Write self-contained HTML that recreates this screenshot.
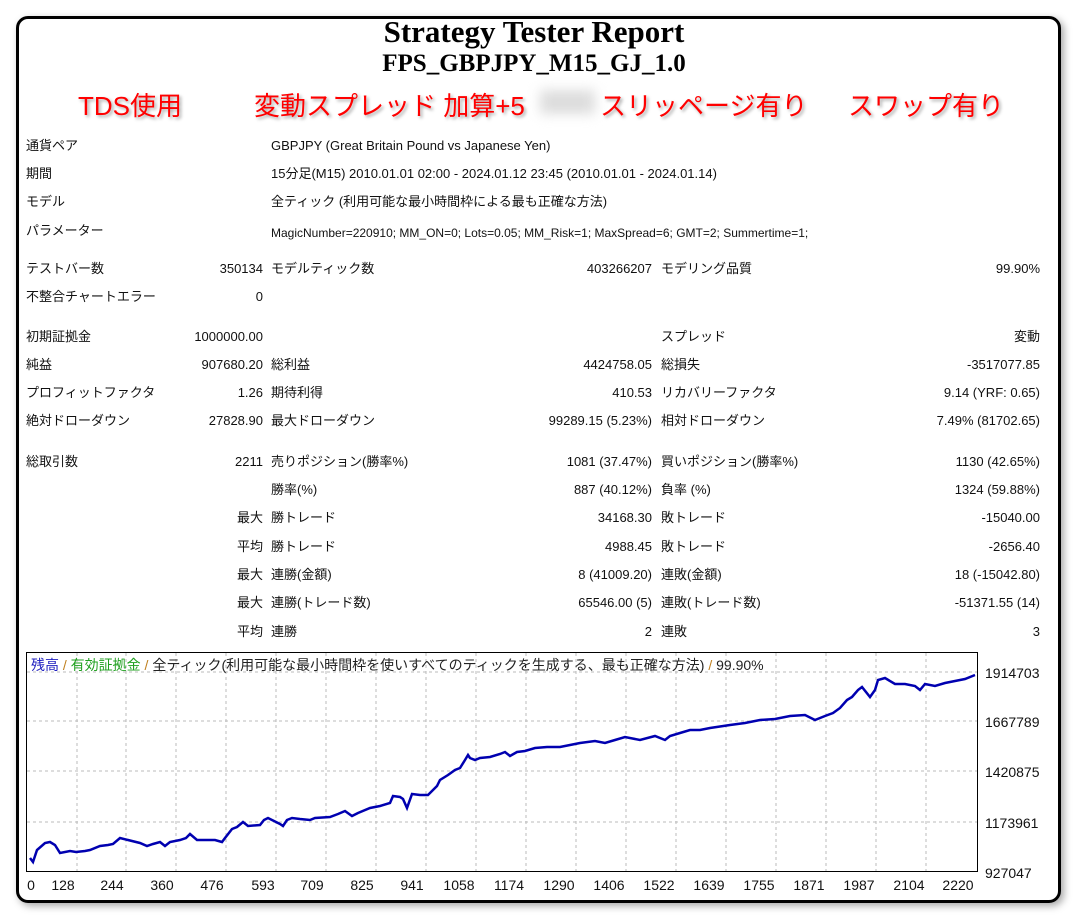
<!DOCTYPE html>
<html><head><meta charset="utf-8"><style>
body{margin:0;width:1076px;height:917px;background:#fff;position:relative;overflow:hidden;font-family:"Liberation Sans","Noto Sans CJK JP",sans-serif;}
.frame{position:absolute;left:16px;top:16px;width:1039px;height:881px;border:3px solid #000;border-radius:12px;box-shadow:3px 3px 8px rgba(0,0,0,0.35);}
.t{position:absolute;white-space:nowrap;font-size:13px;color:#111;line-height:16px;}
.r{text-align:right;}
.h1{position:absolute;left:0;width:1068px;text-align:center;font-family:"Liberation Serif",serif;font-weight:bold;color:#000;}
.red{position:absolute;top:86px;font-size:26px;color:#f00;white-space:nowrap;text-shadow:2px 2px 3px rgba(0,0,0,0.35);font-family:"Liberation Sans","Noto Sans CJK JP",sans-serif;}
</style></head><body>
<div class="frame"></div>
<div class="h1" style="top:14px;font-size:31px;">Strategy Tester Report</div>
<div class="h1" style="top:50px;font-size:25px;">FPS_GBPJPY_M15_GJ_1.0</div>
<div class="red" style="left:78px;">TDS使用</div>
<div class="red" style="left:254px;">変動スプレッド 加算+5</div>
<div style="position:absolute;left:540px;top:90px;width:55px;height:24px;background:#ddd;filter:blur(6px);"></div>
<div class="red" style="left:600px;">スリッページ有り</div>
<div class="red" style="left:848px;">スワップ有り</div>

<div class="t" style="left:26px;top:138px">通貨ペア</div><div class="t" style="left:271px;top:138px">GBPJPY (Great Britain Pound vs Japanese Yen)</div>
<div class="t" style="left:26px;top:166px">期間</div><div class="t" style="left:271px;top:166px">15分足(M15) 2010.01.01 02:00 - 2024.01.12 23:45 (2010.01.01 - 2024.01.14)</div>
<div class="t" style="left:26px;top:194px">モデル</div><div class="t" style="left:271px;top:194px">全ティック (利用可能な最小時間枠による最も正確な方法)</div>
<div class="t" style="left:26px;top:223px">パラメーター</div><div class="t" style="left:271px;top:225px;font-size:12px">MagicNumber=220910; MM_ON=0; Lots=0.05; MM_Risk=1; MaxSpread=6; GMT=2; Summertime=1;</div>

<div class="t" style="left:26px;top:261px">テストバー数</div><div class="t r" style="right:813px;top:261px">350134</div>
<div class="t" style="left:271px;top:261px">モデルティック数</div><div class="t r" style="right:424px;top:261px">403266207</div>
<div class="t" style="left:661px;top:261px">モデリング品質</div><div class="t r" style="right:36px;top:261px">99.90%</div>
<div class="t" style="left:26px;top:289px">不整合チャートエラー</div><div class="t r" style="right:813px;top:289px">0</div>

<div class="t" style="left:26px;top:329px">初期証拠金</div><div class="t r" style="right:813px;top:329px">1000000.00</div>
<div class="t" style="left:661px;top:329px">スプレッド</div><div class="t r" style="right:36px;top:329px">変動</div>
<div class="t" style="left:26px;top:357px">純益</div><div class="t r" style="right:813px;top:357px">907680.20</div>
<div class="t" style="left:271px;top:357px">総利益</div><div class="t r" style="right:424px;top:357px">4424758.05</div>
<div class="t" style="left:661px;top:357px">総損失</div><div class="t r" style="right:36px;top:357px">-3517077.85</div>
<div class="t" style="left:26px;top:385px">プロフィットファクタ</div><div class="t r" style="right:813px;top:385px">1.26</div>
<div class="t" style="left:271px;top:385px">期待利得</div><div class="t r" style="right:424px;top:385px">410.53</div>
<div class="t" style="left:661px;top:385px">リカバリーファクタ</div><div class="t r" style="right:36px;top:385px">9.14 (YRF: 0.65)</div>
<div class="t" style="left:26px;top:413px">絶対ドローダウン</div><div class="t r" style="right:813px;top:413px">27828.90</div>
<div class="t" style="left:271px;top:413px">最大ドローダウン</div><div class="t r" style="right:424px;top:413px">99289.15 (5.23%)</div>
<div class="t" style="left:661px;top:413px">相対ドローダウン</div><div class="t r" style="right:36px;top:413px">7.49% (81702.65)</div>

<div class="t" style="left:26px;top:454px">総取引数</div><div class="t r" style="right:813px;top:454px">2211</div>
<div class="t" style="left:271px;top:454px">売りポジション(勝率%)</div><div class="t r" style="right:424px;top:454px">1081 (37.47%)</div>
<div class="t" style="left:661px;top:454px">買いポジション(勝率%)</div><div class="t r" style="right:36px;top:454px">1130 (42.65%)</div>
<div class="t" style="left:271px;top:482px">勝率(%)</div><div class="t r" style="right:424px;top:482px">887 (40.12%)</div>
<div class="t" style="left:661px;top:482px">負率 (%)</div><div class="t r" style="right:36px;top:482px">1324 (59.88%)</div>
<div class="t r" style="right:813px;top:510px">最大</div><div class="t" style="left:271px;top:510px">勝トレード</div><div class="t r" style="right:424px;top:510px">34168.30</div>
<div class="t" style="left:661px;top:510px">敗トレード</div><div class="t r" style="right:36px;top:510px">-15040.00</div>
<div class="t r" style="right:813px;top:539px">平均</div><div class="t" style="left:271px;top:539px">勝トレード</div><div class="t r" style="right:424px;top:539px">4988.45</div>
<div class="t" style="left:661px;top:539px">敗トレード</div><div class="t r" style="right:36px;top:539px">-2656.40</div>
<div class="t r" style="right:813px;top:567px">最大</div><div class="t" style="left:271px;top:567px">連勝(金額)</div><div class="t r" style="right:424px;top:567px">8 (41009.20)</div>
<div class="t" style="left:661px;top:567px">連敗(金額)</div><div class="t r" style="right:36px;top:567px">18 (-15042.80)</div>
<div class="t r" style="right:813px;top:595px">最大</div><div class="t" style="left:271px;top:595px">連勝(トレード数)</div><div class="t r" style="right:424px;top:595px">65546.00 (5)</div>
<div class="t" style="left:661px;top:595px">連敗(トレード数)</div><div class="t r" style="right:36px;top:595px">-51371.55 (14)</div>
<div class="t r" style="right:813px;top:624px">平均</div><div class="t" style="left:271px;top:624px">連勝</div><div class="t r" style="right:424px;top:624px">2</div>
<div class="t" style="left:661px;top:624px">連敗</div><div class="t r" style="right:36px;top:624px">3</div>

<svg style="position:absolute;left:0;top:0" width="1076" height="917">
<g stroke="#bbb" stroke-dasharray="3,3" stroke-width="1">
<line x1="27" y1="672" x2="977" y2="672"/><line x1="27" y1="721" x2="977" y2="721"/><line x1="27" y1="771" x2="977" y2="771"/><line x1="27" y1="822" x2="977" y2="822"/>
<line x1="77" y1="653" x2="77" y2="871"/><line x1="126" y1="653" x2="126" y2="871"/><line x1="176" y1="653" x2="176" y2="871"/><line x1="226" y1="653" x2="226" y2="871"/><line x1="276" y1="653" x2="276" y2="871"/><line x1="326" y1="653" x2="326" y2="871"/><line x1="376" y1="653" x2="376" y2="871"/><line x1="426" y1="653" x2="426" y2="871"/><line x1="476" y1="653" x2="476" y2="871"/><line x1="526" y1="653" x2="526" y2="871"/><line x1="576" y1="653" x2="576" y2="871"/><line x1="626" y1="653" x2="626" y2="871"/><line x1="676" y1="653" x2="676" y2="871"/><line x1="726" y1="653" x2="726" y2="871"/><line x1="776" y1="653" x2="776" y2="871"/><line x1="826" y1="653" x2="826" y2="871"/><line x1="876" y1="653" x2="876" y2="871"/><line x1="926" y1="653" x2="926" y2="871"/>
</g>
<rect x="26.5" y="652.5" width="951" height="219" fill="none" stroke="#000" stroke-width="1"/>
<polyline fill="none" stroke="#0000b0" stroke-width="2.5" points="30,858 33,862 37,850 45,843 50,842 55,845 60,853 70,851 76,852 85,851 90,850 100,846 108,845 113,844 120,838 128,840 140,843 147,846 153,844 160,842 165,846 170,842 180,840 186,838 190,834 197,840 208,840 215,840 222,842 225,838 232,829 237,827 243,822 248,826 260,825 264,820 268,818 280,824 283,826 287,820 292,818 300,819 310,820 315,818 330,817 338,814 345,811 352,816 358,813 370,808 380,806 390,803 393,796 400,797 403,799 407,808 412,794 420,795 428,795 433,790 437,786 440,780 448,775 455,770 460,768 465,760 468,755 470,758 475,760 480,758 490,757 500,754 505,752 510,756 517,752 525,751 535,748 547,747 560,747 570,745 580,743 595,741 605,743 615,740 625,737 640,740 655,736 665,740 670,736 680,733 690,730 700,730 710,728 730,725 745,723 760,720 775,719 790,716 805,715 815,720 825,716 833,713 840,708 847,700 852,697 858,690 862,687 870,697 875,690 878,680 885,678 895,684 905,684 915,686 920,690 925,684 935,686 945,683 955,681 965,679 975,675"/>
<g font-family="Liberation Sans, sans-serif" font-size="14" fill="#111">
<text x="985" y="678">1914703</text><text x="985" y="727">1667789</text><text x="985" y="777">1420875</text><text x="985" y="828">1173961</text><text x="985" y="878">927047</text>
</g>
<g font-family="Liberation Sans, sans-serif" font-size="14" fill="#111" text-anchor="middle">
<text x="31" y="890">0</text><text x="63" y="890">128</text><text x="112" y="890">244</text><text x="162" y="890">360</text><text x="212" y="890">476</text><text x="263" y="890">593</text><text x="312" y="890">709</text><text x="362" y="890">825</text><text x="412" y="890">941</text><text x="459" y="890">1058</text><text x="509" y="890">1174</text><text x="559" y="890">1290</text><text x="609" y="890">1406</text><text x="659" y="890">1522</text><text x="709" y="890">1639</text><text x="759" y="890">1755</text><text x="809" y="890">1871</text><text x="859" y="890">1987</text><text x="909" y="890">2104</text><text x="958" y="890">2220</text>
</g>
<text x="31" y="670" font-family="Liberation Sans, Noto Sans CJK JP, sans-serif" font-size="14"><tspan fill="#2020c0">残高</tspan><tspan fill="#c08020"> / </tspan><tspan fill="#20a020">有効証拠金</tspan><tspan fill="#c08020"> / </tspan><tspan fill="#222">全ティック(利用可能な最小時間枠を使いすべてのティックを生成する、最も正確な方法)</tspan><tspan fill="#c08020"> / </tspan><tspan fill="#222">99.90%</tspan></text>
</svg>
</body></html>
